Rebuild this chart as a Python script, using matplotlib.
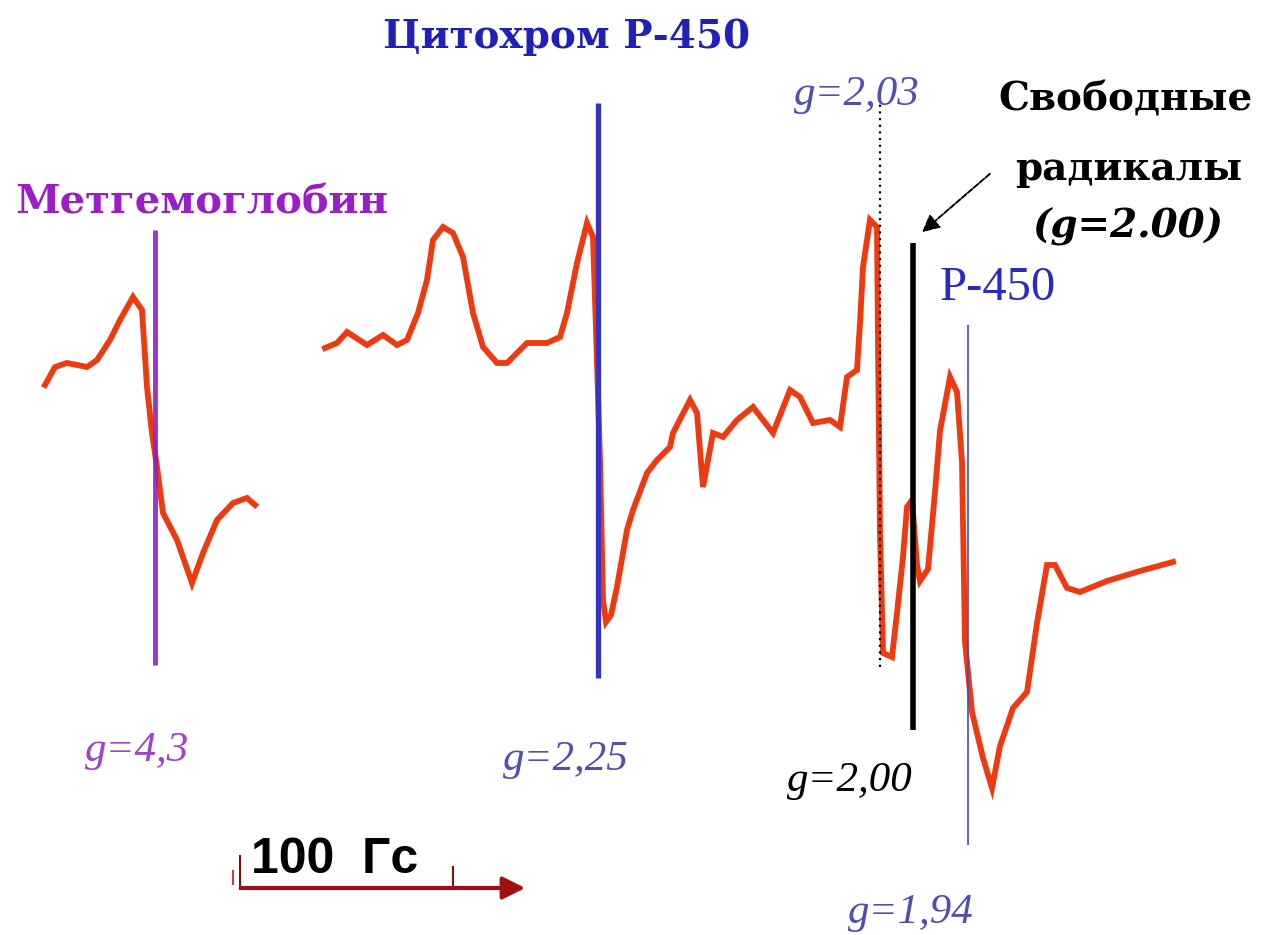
import matplotlib.pyplot as plt

# EPR spectrum traces (field position, signal)
meth_x = [45, 55, 67, 87, 97, 110, 120, 133, 142, 147, 152, 157, 163, 177, 192, 203, 217, 233, 247, 255]
meth_y = [385, 367, 363, 367, 360, 340, 320, 297, 310, 387, 433, 467, 513, 540, 583, 553, 520, 503, 498, 505]

main_x = [325, 337, 347, 367, 383, 397, 407, 418, 427, 433, 443, 453, 463, 473, 483, 497, 507, 527, 547,
          560, 567, 577, 587, 593, 596, 600, 603, 606, 611, 617, 627, 633, 647, 657, 670, 673, 690, 697,
          703, 713, 723, 737, 753, 773, 790, 800, 813, 830, 840, 847, 857, 860, 863, 870, 877, 878, 880,
          883, 892, 897, 903, 907, 912, 917, 920, 928, 935, 940, 950, 957, 962, 965, 972, 983, 992, 1000,
          1013, 1027, 1037, 1047, 1055, 1067, 1080, 1107, 1140, 1173]
main_y = [348, 343, 332, 345, 335, 345, 340, 313, 280, 240, 227, 233, 257, 313, 347, 363, 363, 343, 343,
          337, 313, 263, 223, 237, 330, 460, 600, 622, 615, 587, 530, 510, 473, 460, 447, 433, 400, 413,
          487, 433, 437, 420, 407, 433, 390, 397, 423, 420, 427, 377, 370, 323, 267, 220, 227, 340, 533,
          653, 657, 613, 557, 507, 500, 565, 581, 569, 492, 431, 377, 392, 462, 642, 712, 758, 788, 746,
          708, 692, 623, 565, 565, 588, 592, 581, 571, 562]

# marker lines: x position, top, bottom
meth_line = (155, 230, 665)
cyt_line = (598, 103, 678)
g203_line = (880, 98, 670)
rad_line = (913, 243, 730)
p450_line = (968, 325, 845)

fig = plt.figure(figsize=(12.62, 9.35), dpi=100)
ax = fig.add_axes([0, 0, 1, 1])
ax.set_xlim(0, 1262)
ax.set_ylim(935, 0)
ax.axis("off")

red = "#EE3A10"
ax.plot(meth_x, meth_y, color=red, lw=4.2, solid_joinstyle="miter", zorder=2)
ax.plot(main_x, main_y, color=red, lw=4.2, solid_joinstyle="miter", zorder=2)

ax.vlines(meth_line[0], meth_line[1], meth_line[2], color="#8E22C0", lw=3.5, alpha=0.9, zorder=3)
ax.vlines(cyt_line[0], cyt_line[1], cyt_line[2], color="#3434C4", lw=3.8, zorder=3)
ax.vlines(g203_line[0], g203_line[1], g203_line[2], color="black", lw=1.6, linestyles=(0, (1, 2)), zorder=3)
ax.vlines(rad_line[0], rad_line[1], rad_line[2], color="black", lw=4, zorder=3)
ax.vlines(p450_line[0], p450_line[1], p450_line[2], color="#4646B8", lw=1.4, alpha=0.85, zorder=3)

bold_serif = ["DejaVu Serif"]
serif = ["Liberation Serif", "DejaVu Serif"]
ax.text(567, 48, "Цитохром Р-450", color="#2020B8", fontsize=28, fontweight="bold",
        family=bold_serif, ha="center", va="baseline")
ax.text(202, 213, "Метгемоглобин", color="#9A1EC8", fontsize=29, fontweight="bold",
        family=bold_serif, ha="center", va="baseline")
ax.text(1125, 110, "Свободные", color="black", fontsize=28, fontweight="bold",
        family=bold_serif, ha="center", va="baseline")
ax.text(1129, 180, "радикалы", color="black", fontsize=28, fontweight="bold",
        family=bold_serif, ha="center", va="baseline")
ax.text(1128, 237, "(g=2.00)", color="black", fontsize=28, fontweight="bold", style="italic",
        family=bold_serif, ha="center", va="baseline")

ax.text(137, 761, "g=4,3", color="#A040D0", fontsize=31, style="italic", family=serif,
        ha="center", va="baseline")
ax.text(566, 770, "g=2,25", color="#5050B0", fontsize=31, style="italic", family=serif,
        ha="center", va="baseline")
ax.text(857, 105, "g=2,03", color="#5050B0", fontsize=31, style="italic", family=serif,
        ha="center", va="baseline")
ax.text(850, 791, "g=2,00", color="black", fontsize=31, style="italic", family=serif,
        ha="center", va="baseline")
ax.text(911, 923, "g=1,94", color="#5050B0", fontsize=31, style="italic", family=serif,
        ha="center", va="baseline")
ax.text(998, 300, "Р-450", color="#2A2AC0", fontsize=35, family=serif, ha="center", va="baseline")

# arrow pointing to free-radical line
ax.annotate("", xy=(920, 234), xytext=(992, 172),
            arrowprops=dict(arrowstyle="-|>", color="black", lw=1.4, linestyle=(0, (3, 1)),
                            mutation_scale=26))

# 100 Gs scale bar
ax.annotate("", xy=(528, 888), xytext=(238, 888),
            arrowprops=dict(arrowstyle="-|>", color="#A01010", lw=3, mutation_scale=34))
ax.vlines([240, 453], [855, 866], [890, 890], color="#801010", lw=1.5)
ax.vlines(233, 870, 885, color="#C04040", lw=1.5)
ax.text(335, 873, "100  Гс", color="black", fontsize=36, fontweight="bold",
        family=["Liberation Sans", "DejaVu Sans"], ha="center", va="baseline")

fig.savefig("out.png", dpi=100)
